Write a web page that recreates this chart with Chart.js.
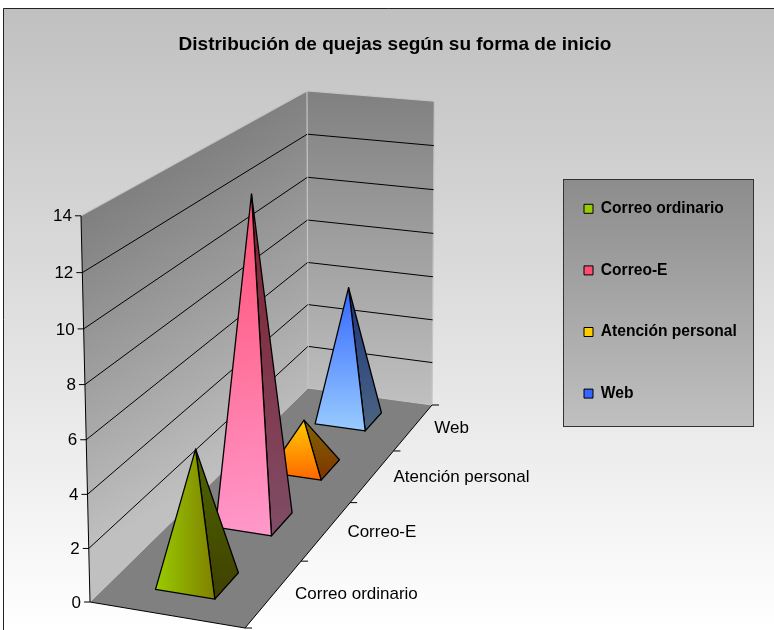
<!DOCTYPE html>
<html>
<head>
<meta charset="utf-8">
<style>
  html, body { margin: 0; padding: 0; background: #fff; overflow: hidden; }
  canvas { display: block; }
</style>
<script src="https://cdn.jsdelivr.net/npm/chart.js@4"></script>
</head>
<body>
<canvas id="myChart" width="774" height="630"></canvas>
<script>
const categories = ["Correo ordinario", "Correo-E", "Atención personal", "Web"];
const quejas = [5, 13, 2, 6];
const yTicks = [0, 2, 4, 6, 8, 10, 12, 14];

// front face gradient [x0,y0,x1,y1 as fractions of the face box], light part, dark part, side face
const faces = [
  { dir: [0, 0, 1, 0], a: "#99cc00", b: "#808000", sa: "#4d6600", sb: "#404000" },
  { dir: [0, 0, 1, 1], a: "#ff4d70", b: "#ff99cc", sa: "#80202f", sb: "#804d66" },
  { dir: [0, 0, 0, 1], a: "#ffcc00", b: "#ff6600", sa: "#806600", sb: "#803300" },
  { dir: [0, 0, 0, 1], a: "#3366ff", b: "#99ccff", sa: "#1a3380", sb: "#4d6680" },
];

const font = "'Liberation Sans', Arial, sans-serif";

// floor corners on screen: front left, front right, back right, back left
const F0 = [90, 602], F1 = [245, 628], F2 = [432, 405], F3 = [308, 388];
const VP = [346, 11577]; // the walls lean away from this point
const HG = -0.03, HT = 0.314; // how the height shrinks across and into the floor

// unit square -> floor
const sx = F0[0] - F1[0] + F2[0] - F3[0], sy = F0[1] - F1[1] + F2[1] - F3[1];
const dx1 = F1[0] - F2[0], dx2 = F3[0] - F2[0], dy1 = F1[1] - F2[1], dy2 = F3[1] - F2[1];
const det = dx1 * dy2 - dx2 * dy1;
const g = (sx * dy2 - dx2 * sy) / det, h = (dx1 * sy - sx * dy1) / det;

// s: across the floor, t: into the floor (0-1), frac: height as a share of the y axis
function project(s, t, frac, axisH) {
  const w = g * s + h * t + 1;
  const fx = ((F1[0] - F0[0] + g * F1[0]) * s + (F3[0] - F0[0] + h * F3[0]) * t + F0[0]) / w;
  const fy = ((F1[1] - F0[1] + g * F1[1]) * s + (F3[1] - F0[1] + h * F3[1]) * t + F0[1]) / w;
  const lamTop = -axisH / (VP[1] - F0[1]);
  const hc = (lamTop / (1 - lamTop)) * frac;
  const lam = hc / (1 + HG * s + HT * t + hc);
  return [fx + lam * (VP[0] - fx), fy + lam * (VP[1] - fy)];
}

function poly(ctx, pts) {
  ctx.beginPath();
  pts.forEach((p, i) => (i ? ctx.lineTo(p[0], p[1]) : ctx.moveTo(p[0], p[1])));
  ctx.closePath();
}

function line(ctx, a, b) {
  ctx.beginPath();
  ctx.moveTo(a[0], a[1]);
  ctx.lineTo(b[0], b[1]);
  ctx.stroke();
}

function boxGradient(ctx, pts, dir, a, b) {
  const xs = pts.map((p) => p[0]), ys = pts.map((p) => p[1]);
  const x0 = Math.min(...xs), x1 = Math.max(...xs), y0 = Math.min(...ys), y1 = Math.max(...ys);
  const gr = ctx.createLinearGradient(
    x0 + dir[0] * (x1 - x0), y0 + dir[1] * (y1 - y0),
    x0 + dir[2] * (x1 - x0), y0 + dir[3] * (y1 - y0)
  );
  gr.addColorStop(0, a);
  gr.addColorStop(1, b);
  return gr;
}

const scene = {
  id: "scene",
  afterLayout(chart) {
    // title sits left of the chart area centre
    chart.titleBlock.left = 16;
    chart.titleBlock.right = 774;

    // legend goes inside its own grey box, not where the layout puts it
    const lg = chart.legend;
    const pad = lg.options.labels.padding;
    lg.left = 584 - pad;
    lg.right = lg.left + lg.width;
    lg.top = 155;
    lg.bottom = lg.top + lg.height;
    const ctx = chart.ctx;
    const rowH = lg.options.labels.font.size + pad;
    lg.legendItems.forEach((it, i) => {
      const y = lg.top + pad + i * rowH;
      const gr = ctx.createLinearGradient(0, y + 3, 0, y + 13);
      gr.addColorStop(0, faces[i].a);
      gr.addColorStop(1, faces[i].b);
      it.fillStyle = gr;
    });
  },
  beforeDraw(chart) {
    const ctx = chart.ctx;
    const yScale = chart.scales.y;
    const zero = yScale.getPixelForValue(0);
    const axisH = zero - yScale.getPixelForValue(yTicks[yTicks.length - 1]);
    const frac = (v) => (zero - yScale.getPixelForValue(v)) / axisH;
    const pr = (s, t, f) => project(s, t, f, axisH);

    ctx.save();
    // page background of the chart
    let gr = ctx.createLinearGradient(0, 8, 0, 630);
    gr.addColorStop(0, "#c0c0c0");
    gr.addColorStop(1, "#ffffff");
    ctx.fillStyle = gr;
    ctx.fillRect(3, 8, 771, 622);
    ctx.strokeStyle = "#222";
    ctx.lineWidth = 1;
    ctx.beginPath();
    ctx.moveTo(3.5, 630);
    ctx.lineTo(3.5, 8.5);
    ctx.lineTo(774, 8.5);
    ctx.stroke();

    // legend box
    gr = ctx.createLinearGradient(0, 179, 0, 427);
    gr.addColorStop(0, "#8c8c8c");
    gr.addColorStop(1, "#c0c0c0");
    ctx.fillStyle = gr;
    ctx.fillRect(563, 179, 191, 248);
    ctx.strokeStyle = "#333";
    ctx.strokeRect(563.5, 179.5, 190, 247);

    // walls
    const a0 = pr(0, 0, 0), a1 = pr(0, 0, 1);
    const b0 = pr(0, 1, 0), b1 = pr(0, 1, 1);
    const c0 = pr(1, 1, 0), c1 = pr(1, 1, 1);
    const d0 = pr(1, 0, 0);

    gr = ctx.createLinearGradient(195, 153, 342, 404);
    gr.addColorStop(0, "#808080");
    gr.addColorStop(1, "#c0c0c0");
    ctx.fillStyle = gr;
    poly(ctx, [a0, a1, b1, b0]);
    ctx.fill();

    gr = ctx.createLinearGradient(0, b1[1], 0, c0[1]);
    gr.addColorStop(0, "#808080");
    gr.addColorStop(1, "#c0c0c0");
    ctx.fillStyle = gr;
    poly(ctx, [b0, b1, c1, c0]);
    ctx.fill();

    ctx.strokeStyle = "#c4c4c4";
    ctx.lineWidth = 1.2;
    ctx.beginPath();
    ctx.moveTo(a1[0], a1[1]);
    ctx.lineTo(b1[0], b1[1]);
    ctx.lineTo(c1[0], c1[1]);
    ctx.lineTo(c0[0], c0[1]);
    ctx.moveTo(b1[0], b1[1]);
    ctx.lineTo(b0[0], b0[1]);
    ctx.stroke();

    // gridlines on both walls
    ctx.strokeStyle = "#000";
    ctx.lineWidth = 1;
    yTicks.slice(1, -1).forEach((v) => {
      const f = frac(v);
      const p = pr(0, 0, f), q = pr(0, 1, f), r = pr(1, 1, f);
      line(ctx, p, q);
      line(ctx, [q[0] + 1, q[1]], r);
    });

    // floor
    ctx.fillStyle = "#808080";
    poly(ctx, [a0, d0, c0, b0]);
    ctx.fill();
    ctx.strokeStyle = "#c4c4c4";
    line(ctx, a0, b0);
    line(ctx, b0, c0);
    ctx.strokeStyle = "#000";
    line(ctx, a0, d0);
    line(ctx, d0, c0);
    line(ctx, a0, a1);

    // y axis ticks and labels lean with the wall edge
    ctx.fillStyle = "#000";
    ctx.font = "17px " + font;
    ctx.textBaseline = "middle";
    ctx.textAlign = "right";
    yScale.ticks.forEach((tk) => {
      const p = pr(0, 0, frac(tk.value));
      line(ctx, [p[0] - 6, p[1]], p);
      ctx.fillText(String(tk.value), p[0] - 9, p[1] + 1);
    });

    // depth axis ticks and labels
    const xScale = chart.scales.x;
    for (let i = 0; i <= categories.length; i++) {
      const p = pr(1, i / categories.length, 0);
      line(ctx, p, [p[0] + 7, p[1]]);
    }
    ctx.textAlign = "left";
    categories.forEach((c, i) => {
      const t = (xScale.getPixelForValue(i) - xScale.left) / xScale.width;
      const p = pr(1, t, 0);
      ctx.fillText(xScale.getLabelForValue(i), p[0] + 21, p[1] + 1);
    });
    ctx.restore();
  },
  afterDatasetsDraw(chart) {
    const ctx = chart.ctx;
    const meta = chart.getDatasetMeta(0);
    const xScale = chart.scales.x;
    const yScale = chart.scales.y;
    const zero = yScale.getPixelForValue(0);
    const axisH = zero - yScale.getPixelForValue(yTicks[yTicks.length - 1]);
    ctx.save();
    ctx.strokeStyle = "#000";
    ctx.lineWidth = 1.3;
    ctx.lineJoin = "round";
    // back to front
    for (let i = meta.data.length - 1; i >= 0; i--) {
      const el = meta.data[i];
      const t = (el.x - xScale.left) / xScale.width;
      const s0 = 0.3, s1 = 0.69, dt = 0.05;
      const fl = project(s0, t - dt, 0, axisH);
      const fr = project(s1, t - dt, 0, axisH);
      const br = project(s1, t + dt, 0, axisH);
      const apex = project((s0 + s1) / 2, t, (zero - el.y) / axisH, axisH);
      const f = faces[i];
      const side = [fr, br, apex], front = [fl, fr, apex];
      ctx.fillStyle = boxGradient(ctx, side, [0, 0, 0, 1], f.sa, f.sb);
      poly(ctx, side);
      ctx.fill();
      ctx.stroke();
      ctx.fillStyle = boxGradient(ctx, front, f.dir, f.a, f.b);
      poly(ctx, front);
      ctx.fill();
      ctx.stroke();
    }
    ctx.restore();
  },
};

new Chart(document.getElementById("myChart"), {
  type: "bar",
  data: {
    labels: categories,
    datasets: [
      {
        label: "Quejas",
        data: quejas,
        backgroundColor: "rgba(0,0,0,0)",
        borderWidth: 0,
      },
    ],
  },
  plugins: [scene],
  options: {
    responsive: false,
    animation: false,
    layout: { padding: { left: 90, bottom: 28, top: 0, right: 0 } },
    scales: {
      x: { display: false },
      y: {
        display: false,
        min: 0,
        max: 14,
        afterBuildTicks(scale) {
          scale.ticks = yTicks.map((v) => ({ value: v }));
        },
      },
    },
    plugins: {
      tooltip: { enabled: false },
      title: {
        display: true,
        text: "Distribución de quejas según su forma de inicio",
        color: "#000",
        font: { family: font, size: 19, weight: "bold" },
        padding: { top: 33, bottom: 160 },
      },
      legend: {
        position: "right",
        align: "start",
        labels: {
          color: "#000",
          boxWidth: 9,
          boxHeight: 9,
          padding: 46,
          font: { family: font, size: 15.6, weight: "bold" },
          generateLabels() {
            return categories.map((c, i) => ({
              text: c,
              fillStyle: faces[i].a,
              strokeStyle: "#000",
              lineWidth: 1,
              datasetIndex: 0,
              index: i,
            }));
          },
        },
      },
    },
  },
});
</script>
</body>
</html>
